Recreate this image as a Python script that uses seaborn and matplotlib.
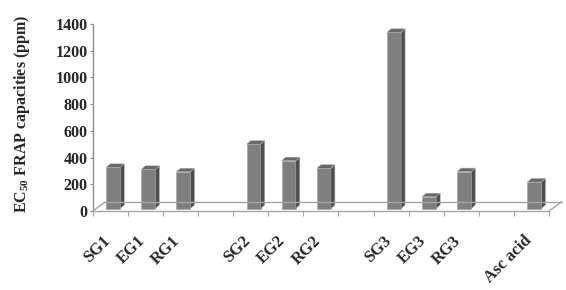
import matplotlib
matplotlib.use("Agg")
import matplotlib.pyplot as plt
import seaborn as sns
import pandas as pd
import numpy as np
from matplotlib.patches import Polygon
from matplotlib.lines import Line2D
from matplotlib.transforms import ScaledTranslation

# ---- data ----
categories = ["SG1", "EG1", "RG1", "SG2", "EG2", "RG2", "SG3", "EG3", "RG3", "Asc acid"]
values = [308, 293, 275, 481, 358, 301, 1319, 88, 276, 198]
group_sizes = [3, 3, 3, 1]
y_ticks = [0, 200, 400, 600, 800, 1000, 1200, 1400]
y_label = r"EC$_{50}$ FRAP capacities (ppm)"

sns.set_theme(style="white")
plt.rcParams['font.family'] = ['Liberation Serif', 'DejaVu Serif']
plt.rcParams['font.weight'] = 'bold'
plt.rcParams['mathtext.default'] = 'regular'

# build category order with empty spacer slots between groups
order = []
i = 0
for g, n in enumerate(group_sizes):
    if g > 0:
        order.append(" " * g)
    order += categories[i:i + n]
    i += n

df = pd.DataFrame({"cat": categories, "val": values})

W, H = 566, 290
fig = plt.figure(figsize=(W / 100, H / 100), dpi=100)
ax_l, ax_r, ax_b, ax_t = 92.7, 549.0, 79.0, 266.0
ax = fig.add_axes([ax_l / W, ax_b / H, (ax_r - ax_l) / W, (ax_t - ax_b) / H])

front = "#7f7f7f"
side = "#4e4e4e"
top = "#686868"
edge = "#a8a8a8"
floor_c = "#a6a6a6"

sns.barplot(data=df, x="cat", y="val", order=order, color=front, saturation=1,
            width=0.4, edgecolor=edge, linewidth=0.5, ax=ax, zorder=3)
n = len(order)
ax.set_xlim(-0.5, n - 0.5)
ax.set_ylim(0, 1400)

px_x = (ax_r - ax_l) / n        # px per data unit x
px_y = (ax_t - ax_b) / 1400.0   # px per data unit y
shift_x, shift_y = 3.0 / px_x, 2.5 / px_y
ddx, ddy = 4.0 / px_x, 3.5 / px_y

for p in list(ax.patches):
    h = p.get_height()
    if not np.isfinite(h) or h == 0:
        continue
    xl = p.get_x() + shift_x
    w = p.get_width()
    xr = xl + w
    y0 = shift_y
    y1 = y0 + h
    p.set_x(xl)
    p.set_y(y0)
    p.set_clip_on(False)
    sp = Polygon([(xr, y0), (xr + ddx, y0 + ddy), (xr + ddx, y1 + ddy), (xr, y1)],
                 closed=True, facecolor=side, edgecolor=edge, linewidth=0.4,
                 zorder=3, clip_on=False)
    tp = Polygon([(xl, y1), (xr, y1), (xr + ddx, y1 + ddy), (xl + ddx, y1 + ddy)],
                 closed=True, facecolor=top, edgecolor=edge, linewidth=0.4,
                 zorder=3, clip_on=False)
    ax.add_patch(sp)
    ax.add_patch(tp)

# floor (3D base)
fdx, fdy = 12.5, 9.0
for (xa, ya, xb, yb) in [
    (ax_l + fdx, ax_b + fdy, ax_r + fdx, ax_b + fdy),
    (ax_l, ax_b, ax_l + fdx, ax_b + fdy),
    (ax_r, ax_b, ax_r + fdx, ax_b + fdy),
]:
    fig.add_artist(Line2D([xa / W, xb / W], [ya / H, yb / H], transform=fig.transFigure,
                          color=floor_c, lw=1.0, zorder=0.5))

# spines
for s in ["top", "right"]:
    ax.spines[s].set_visible(False)
ax.spines["left"].set_color("#8c8c8c")
ax.spines["bottom"].set_color(floor_c)
ax.spines["left"].set_linewidth(1.0)
ax.spines["bottom"].set_linewidth(1.0)

# x ticks: marks at slot boundaries, labels at centers
ax.set_xticks(np.arange(-0.5, n, 1.0))
ax.set_xticklabels([])
ax.set_xticks(np.arange(n), minor=True)
ax.set_xticklabels([c if c.strip() else "" for c in order], minor=True,
                   rotation=45, ha="right", va="top", fontsize=12, fontweight="bold")
ax.tick_params(axis="x", which="major", direction="out", length=3.8, width=0.8,
               color=floor_c, bottom=True)
ax.tick_params(axis="x", which="minor", length=0, pad=15.5, bottom=True)
for lbl in ax.get_xticklabels(minor=True):
    lbl.set_transform(lbl.get_transform() + ScaledTranslation(3 / 100, 0, fig.dpi_scale_trans))

ax.set_yticks(y_ticks)
ax.set_yticklabels([str(v) for v in y_ticks], fontsize=11.5, fontweight="bold")
ax.tick_params(axis="y", direction="out", length=2.2, width=0.8, color="#8c8c8c",
               pad=1.5, left=True)

ax.set_xlabel("")
ax.set_ylabel(y_label, fontsize=11.5, fontweight="bold")
ax.yaxis.set_label_coords((32 - ax_l) / (ax_r - ax_l), (H - 114 - ax_b) / (ax_t - ax_b))
ax.grid(False)
ax.set_facecolor("white")

fig.savefig("out.png", dpi=100, facecolor="white")
